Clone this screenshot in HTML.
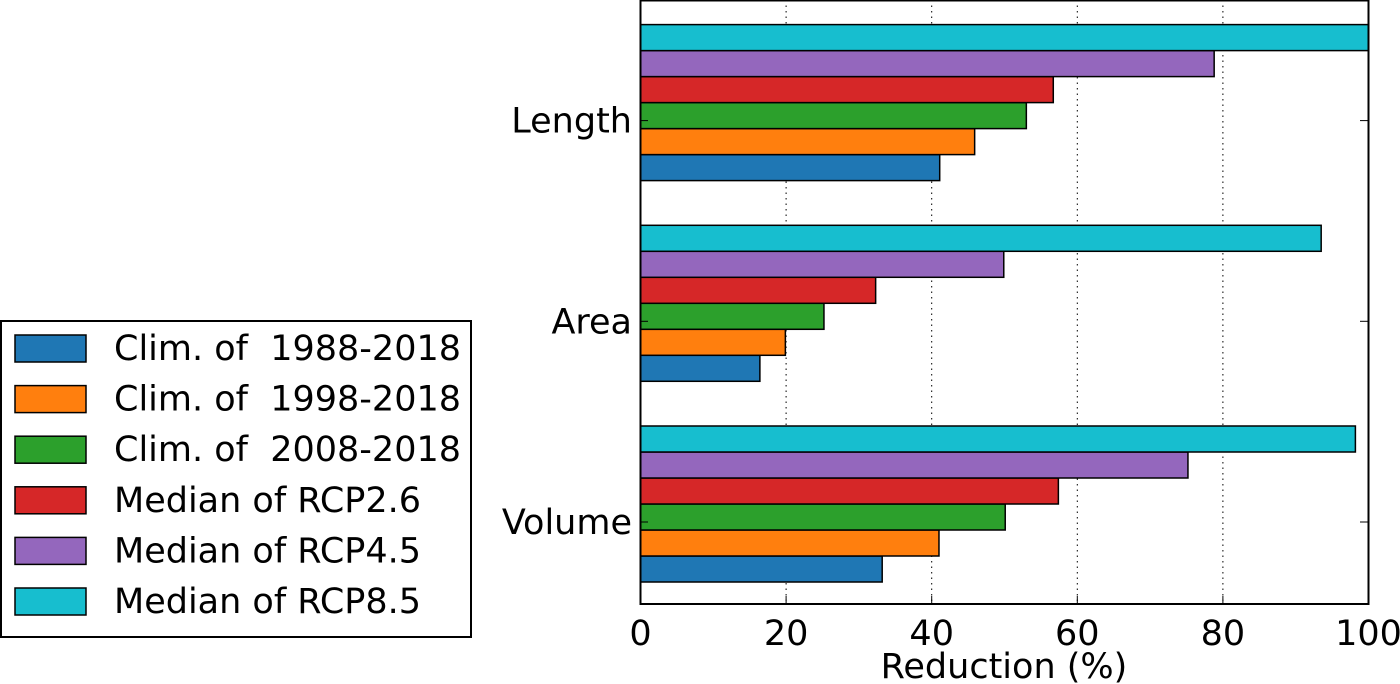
<!DOCTYPE html>
<html><head><meta charset="utf-8"><style>
html,body{margin:0;padding:0;background:#fff;}
svg{display:block;font-family:"DejaVu Sans","Liberation Sans",sans-serif;}
</style></head><body>
<svg id="chart" width="1400" height="684" viewBox="0 0 1400 684">
<g id="grid"></g>
<g id="bars"></g>
<rect x="640.5" y="0.5" width="728" height="603.5" fill="none" stroke="#000" stroke-width="2"/>
<g id="xticks"></g>
<g id="yticks"></g>
<text x="1004" y="678" font-size="35" text-anchor="middle">Reduction (%)</text>
<g id="legend">
<rect x="1" y="321" width="470" height="316" fill="#fff" stroke="#000" stroke-width="2"/>
</g>
</svg>
<script>
const categories = ["Volume", "Area", "Length"];
const seriesNames = ["Clim. of  1988-2018", "Clim. of  1998-2018", "Clim. of  2008-2018", "Median of RCP2.6", "Median of RCP4.5", "Median of RCP8.5"];
const seriesColors = ["#1f77b4", "#ff7f0e", "#2ca02c", "#d62728", "#9467bd", "#17becf"];
const clim1988 = [33.2, 16.4, 41.1];
const clim1998 = [41.0, 19.9, 45.9];
const clim2008 = [50.1, 25.2, 53.0];
const rcp26 = [57.4, 32.3, 56.7];
const rcp45 = [75.2, 49.9, 78.8];
const rcp85 = [98.2, 93.5, 100];
const xTicks = [0, 20, 40, 60, 80, 100];

const series = [clim1988, clim1998, clim2008, rcp26, rcp45, rcp85];
const NS = "http://www.w3.org/2000/svg";
const x0 = 640.5, x1 = 1368.5;
const xs = v => x0 + (v / 100) * (x1 - x0);
const yTick = i => 522 - i * 200.7;
const barH = 26;
function mk(tag, attrs, parent) {
  const e = document.createElementNS(NS, tag);
  for (const k in attrs) e.setAttribute(k, attrs[k]);
  parent.appendChild(e);
  return e;
}
const grid = document.getElementById('grid');
const xt = document.getElementById('xticks');
xTicks.forEach(t => {
  const x = xs(t);
  if (t > 0 && t < 100) {
    const g = mk('line', {x1: x, x2: x, y1: 0, y2: 604, stroke: '#000', 'stroke-width': 1, 'stroke-dasharray': '1.5,4'}, grid);
    
    
  }
  const l = mk('text', {x: x, y: 645, 'font-size': 35, 'text-anchor': 'middle'}, xt);
  l.textContent = t;
  
  
  mk('line', {x1: x, x2: x, y1: 604, y2: 596, stroke: '#000', 'stroke-width': 1}, xt);
});
const bars = document.getElementById('bars');
const yt = document.getElementById('yticks');
categories.forEach((c, i) => {
  const ty = yTick(i);
  const lab = mk('text', {x: 632, y: ty + 12, 'font-size': 35, 'text-anchor': 'end'}, yt);
  lab.textContent = c;
  
  
  mk('line', {x1: 641, x2: 648, y1: ty, y2: ty, stroke: '#000'}, yt);
  mk('line', {x1: 1360, x2: 1368, y1: ty, y2: ty, stroke: '#000'}, yt);
  series.forEach((s, j) => {
    const top = ty - 96 + (5 - j) * barH;
    const r = mk('rect', {x: x0, y: top, width: xs(s[i]) - x0, height: barH, fill: seriesColors[j], stroke: '#000', 'stroke-width': 1.5}, bars);
    
    
  });
});
const leg = document.getElementById('legend');
seriesNames.forEach((n, j) => {
  const cy = 348 + j * 50.6;
  const sw = mk('rect', {x: 15, y: cy - 13, width: 71, height: 27, fill: seriesColors[j], stroke: '#000', 'stroke-width': 1.5}, leg);
  
  
  const t = mk('text', {x: 114, y: cy + 12, 'font-size': 35, 'xml:space': 'preserve'}, leg);
  t.style.whiteSpace = 'pre';
  t.textContent = n;
  
  
});
</script>
</body></html>
